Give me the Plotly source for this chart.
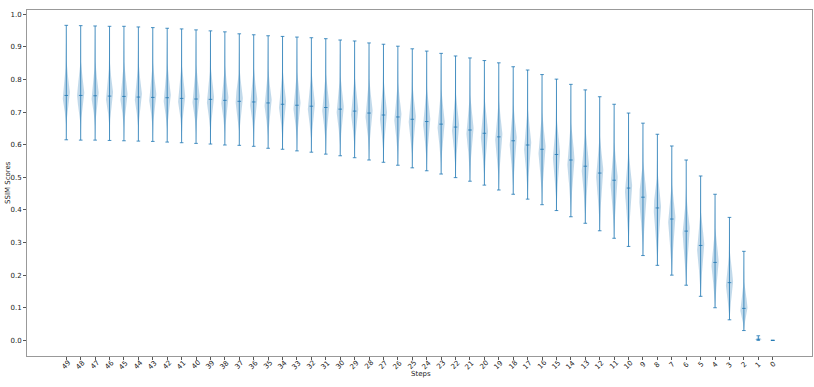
import numpy as np
import plotly.graph_objects as go

# SSIM score spread per diffusion step
steps = list(range(49, -1, -1))
ssim_max = [0.966, 0.965, 0.964, 0.963, 0.963, 0.961, 0.959, 0.957, 0.955, 0.952,
            0.949, 0.946, 0.940, 0.937, 0.934, 0.932, 0.930, 0.928, 0.925, 0.921,
            0.918, 0.912, 0.908, 0.902, 0.894, 0.887, 0.880, 0.872, 0.866, 0.858,
            0.851, 0.839, 0.829, 0.815, 0.801, 0.785, 0.768, 0.747, 0.724, 0.697,
            0.666, 0.632, 0.596, 0.553, 0.504, 0.448, 0.377, 0.273, 0.014, 0.0]
ssim_median = [0.751, 0.751, 0.750, 0.749, 0.748, 0.746, 0.745, 0.744, 0.742, 0.740,
               0.739, 0.736, 0.733, 0.731, 0.728, 0.724, 0.721, 0.718, 0.714, 0.709,
               0.703, 0.697, 0.691, 0.685, 0.678, 0.671, 0.663, 0.654, 0.645, 0.635,
               0.624, 0.612, 0.599, 0.586, 0.570, 0.553, 0.534, 0.513, 0.491, 0.467,
               0.439, 0.406, 0.372, 0.335, 0.291, 0.239, 0.177, 0.098, 0.003, 0.0]
ssim_min = [0.615, 0.614, 0.614, 0.613, 0.612, 0.611, 0.610, 0.608, 0.606, 0.604,
            0.602, 0.599, 0.598, 0.595, 0.589, 0.586, 0.581, 0.577, 0.571, 0.566,
            0.560, 0.553, 0.546, 0.537, 0.529, 0.520, 0.510, 0.499, 0.488, 0.476,
            0.461, 0.448, 0.433, 0.416, 0.398, 0.379, 0.359, 0.336, 0.313, 0.288,
            0.260, 0.230, 0.200, 0.169, 0.135, 0.100, 0.063, 0.030, 0.000, 0.0]

blue = "#1f77b4"
half_w = 0.25   # violin half width (widths=0.5)
cap_w = 0.125

body_x, body_y = [], []
line_x, line_y = [], []
n = len(steps)
for i in range(n):
    lo, med, hi = ssim_min[i], ssim_median[i], ssim_max[i]
    # outline of the density: skewed bell around the median
    frac = i / (n - 1)
    s_up = 0.22 * (hi - med)
    s_dn = (0.28 + 0.12 * frac) * (med - lo)
    if hi > lo:
        ys = np.linspace(lo, hi, 120)
        s = np.where(ys >= med, s_up, s_dn)
        s = np.where(s > 0, s, 1e-9)
        w = half_w * np.exp(-0.5 * ((ys - med) / s) ** 2)
        body_x += list(i + w) + list(i - w[::-1]) + [None]
        body_y += list(ys) + list(ys[::-1]) + [None]
    # stem, caps and median
    line_x += [i, i, None]
    line_y += [lo, hi, None]
    for v in (lo, med, hi):
        line_x += [i - cap_w, i + cap_w, None]
        line_y += [v, v, None]

fig = go.Figure()
fig.add_trace(go.Scatter(x=body_x, y=body_y, mode="lines", fill="toself",
                         fillcolor="rgba(31,119,180,0.28)",
                         line=dict(width=0, color="rgba(31,119,180,0)"),
                         hoverinfo="skip", showlegend=False))
fig.add_trace(go.Scatter(x=line_x, y=line_y, mode="lines",
                         line=dict(width=0.9, color="rgba(31,119,180,0.9)"),
                         hoverinfo="skip", showlegend=False))

axis_font = dict(family="DejaVu Sans", size=7, color="#222")
fig.update_xaxes(range=[-2.725, 51.725], tickmode="array",
                 tickvals=list(range(n)), showticklabels=False,
                 ticks="outside", ticklen=3, tickcolor="#555",
                 showline=True, linecolor="#999", linewidth=1, mirror=True,
                 showgrid=False, zeroline=False, automargin=False)
fig.update_yaxes(range=[-0.048, 1.013], tickmode="array",
                 tickvals=[k / 10 for k in range(11)],
                 ticktext=[f"{k / 10:.1f}" for k in range(11)],
                 ticks="outside", ticklen=3, tickcolor="#555",
                 showline=True, linecolor="#999", linewidth=1, mirror=True,
                 showgrid=False, zeroline=False, tickfont=axis_font,
                 automargin=False)

# rotated step labels, centred under each tick like matplotlib's rotation=45
for i, s in enumerate(steps):
    fig.add_annotation(text=str(s), x=i, xref="x", y=0, yref="paper",
                       yshift=-9, xanchor="center", yanchor="middle",
                       textangle=-45, showarrow=False, font=axis_font)
fig.add_annotation(text="Steps", xref="paper", yref="paper", x=0.502, y=0,
                   yshift=-12, xanchor="center", yanchor="top",
                   showarrow=False, font=axis_font)
fig.add_annotation(text="SSIM Scores", xref="paper", yref="paper", x=0, y=0.5,
                   xshift=-19, xanchor="center", yanchor="middle",
                   textangle=-90, showarrow=False, font=axis_font)
fig.update_layout(width=814, height=387, paper_bgcolor="white",
                  plot_bgcolor="white",
                  margin=dict(l=27, r=2, t=10, b=31))

fig.write_html("out.html", config={"displayModeBar": False},
               post_script="document.body.style.margin='0';")
